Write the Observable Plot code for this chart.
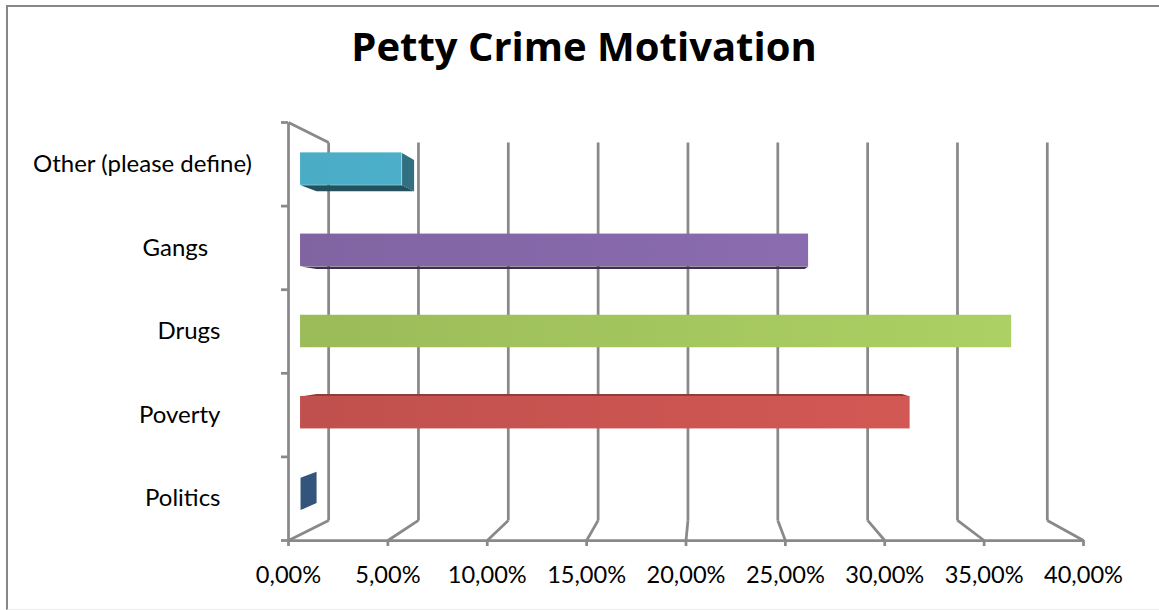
<!DOCTYPE html>
<html>
<head>
<meta charset="utf-8">
<script src="https://cdn.jsdelivr.net/npm/d3@7"></script>
<script src="https://cdn.jsdelivr.net/npm/@observablehq/plot@0.6"></script>
<style>
  html, body { margin: 0; padding: 0; background: #fff; }
  #chart { position: relative; width: 1159px; height: 610px; overflow: hidden; }
  #chart .frame {
    position: absolute; left: 6px; top: 5px; width: 1170px; height: 605px;
    border-left: 2px solid #878787; border-top: 2px solid #878787;
    border-bottom: 1px solid #ececec; box-sizing: border-box;
  }
  #chart svg { position: absolute; left: 0; top: 0; }
  #chart svg text { white-space: pre; }
</style>
</head>
<body>
<div id="chart"><div class="frame"></div></div>
<script>
// ---- data -------------------------------------------------------------
const title = "Petty Crime Motivation";
const categories = ["Politics", "Poverty", "Drugs", "Gangs  ", "Other (please define)"];
const shares = [0, 31.58, 36.84, 26.32, 5.26];          // % of respondents
const ticks = [0, 5, 10, 15, 20, 25, 30, 35, 40];        // value axis, %
const palette = ["#4F81BD", "#C0504D", "#9BBB59", "#8064A2", "#4BACC6"];

// ---- 3-D look: one-point perspective expressed in data units ----------
// A point (value, row, depth) with depth 0 = front plane, 1 = back wall,
// shrinks toward the vanishing point as it recedes.
const vanish = {v: 21.03, h: 2.5};
const recede = 0.096;
function P(v, h, d) {
  const s = 1 - recede * d;
  return {x: vanish.v + (v - vanish.v) * s, y: vanish.h + (h - vanish.h) * s};
}
const rows = categories.length;
const vMax = ticks[ticks.length - 1];
const slab = [0.3, 0.7];       // bar extent in depth
const thick = [0.3, 0.7];      // bar extent within its row

// wall and floor lines
const segs = [];
const seg = (a, b) => segs.push({x1: a.x, y1: a.y, x2: b.x, y2: b.y});
for (const v of ticks) {
  seg(P(v, 0, 1), P(v, rows, 1));   // back wall gridline
  seg(P(v, 0, 1), P(v, 0, 0));      // floor line to the front axis
}
seg(P(0, 0, 0), P(vMax, 0, 0));     // front value axis
seg(P(0, 0, 0), P(0, rows, 0));     // side wall, front edge
seg(P(0, rows, 0), P(0, rows, 1));  // side wall, top edge

// bar faces
const faces = [];   // polygons (end caps, top/bottom faces)
const fronts = [];  // front rectangles
shares.forEach((val, i) => {
  const base = d3.color(palette[i]);
  const h0 = i + thick[0], h1 = i + thick[1], d0 = slab[0], d1 = slab[1];
  const poly = (pts, fill, key) => pts.forEach(p => faces.push({...p, face: `${i}-${key}`, fill}));
  if (val < vanish.v)
    poly([P(val, h0, d0), P(val, h0, d1), P(val, h1, d1), P(val, h1, d0)], base.darker(1.2).formatHex(), "end");
  if (h1 < vanish.h)
    poly([P(0, h1, d0), P(val, h1, d0), P(val, h1, d1), P(0, h1, d1)], base.darker(0.8).formatHex(), "top");
  if (h0 > vanish.h)
    poly([P(0, h0, d0), P(val, h0, d0), P(val, h0, d1), P(0, h0, d1)], base.darker(2.1).formatHex(), "bottom");
  if (val > 0) {
    const a = P(0, h0, d0), b = P(val, h1, d0);
    fronts.push({i, x1: a.x, x2: b.x, y1: a.y, y2: b.y});
  }
});

const locale = d3.formatLocale({decimal: ",", thousands: ".", grouping: [3], currency: ["", " €"]});
const pct = locale.format(".2%");
const font = "Lato, 'Open Sans', sans-serif";

const chart = Plot.plot({
  width: 1159,
  height: 610,
  margin: 0,
  x: {domain: [0, vMax], range: [288, 1083], axis: null},
  y: {domain: [0, rows], range: [540, 122], axis: null},
  color: {type: "identity"},
  style: {fontFamily: font, fontSize: "24px", color: "#000", background: "transparent", overflow: "visible"},
  marks: [
    Plot.link(segs, {x1: "x1", y1: "y1", x2: "x2", y2: "y2", stroke: "#898989", strokeWidth: 2.75}),
    Plot.ruleX(ticks, {x: d => d, y1: 0, y2: 0, insetBottom: -6, stroke: "#898989", strokeWidth: 2.75}),
    Plot.ruleY(d3.range(rows + 1), {y: d => d, x1: 0, x2: 0, insetLeft: -7, stroke: "#898989", strokeWidth: 2.75}),
    Plot.line(faces, {x: "x", y: "y", z: "face", fill: "fill", stroke: "none"}),
    Plot.rect(fronts, {x1: "x1", x2: "x2", y1: "y1", y2: "y2", fill: d => `url(#front-${d.i})`}),
    Plot.text(ticks, {x: d => d, y: 0, dy: 35, text: d => pct(d / 100), fontSize: 23.6}),
    Plot.text(categories, {x: 0, y: (d, i) => i + 0.5, textAnchor: "end", dx: -68, fontSize: 24}),
    Plot.text([title], {frameAnchor: "top", lineAnchor: "middle", dy: 48, dx: 4, fontSize: 40, fontWeight: "bold", fontFamily: "'Open Sans', Lato, sans-serif"})
  ]
});

// horizontal shading of the bar fronts, lighter toward larger values
const xs = chart.scale("x");
const defs = d3.select(chart).insert("defs", ":first-child");
palette.forEach((c, i) => {
  const g = defs.append("linearGradient")
    .attr("id", `front-${i}`)
    .attr("gradientUnits", "userSpaceOnUse")
    .attr("x1", xs.apply(P(0, 0, slab[0]).x)).attr("x2", xs.apply(P(vMax, 0, slab[0]).x))
    .attr("y1", 0).attr("y2", 0);
  g.append("stop").attr("offset", 0).attr("stop-color", c);
  g.append("stop").attr("offset", 1).attr("stop-color", d3.color(c).brighter(0.32).formatHex());
});

const holder = document.getElementById("chart");
holder.appendChild(chart);

// keep long category labels inside the chart area
const pad = 33;
const left0 = holder.getBoundingClientRect().left;
d3.select(chart).selectAll("text")
  .filter(function () { return categories.includes(this.textContent); })
  .each(function () {
    const left = this.getBoundingClientRect().left - left0;
    if (left < pad) {
      const t = this.getAttribute("transform") || "";
      this.setAttribute("transform", `${t} translate(${pad - left},0)`);
    }
  });
</script>
</body>
</html>
